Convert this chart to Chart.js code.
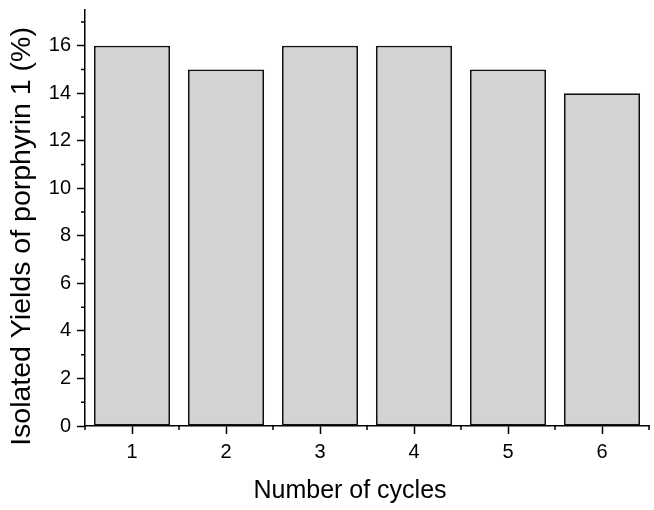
<!DOCTYPE html>
<html>
<head>
<meta charset="utf-8">
<script src="https://cdn.jsdelivr.net/npm/chart.js@4/dist/chart.umd.min.js"></script>
<style>
	html, body { margin: 0; padding: 0; background: #fff; }
	#wrap { width: 654px; height: 510px; }
</style>
</head>
<body>
<div id="wrap"><canvas id="yieldChart" width="654" height="510"></canvas></div>
<script>
	// data
	const cycles = ["1", "2", "3", "4", "5", "6"];
	const yields = [16, 15, 16, 16, 15, 14];
	const yMin = 0;
	const yMax = 17.5;
	const yStep = 2;
	const xTitle = "Number of cycles";
	const yTitle = "Isolated Yields of porphyrin 1 (%)";

	const fontFamily = "'Liberation Sans', Arial, sans-serif";

	// minor ticks + axis titles (Origin style, titles slightly off-centre)
	const originAxes = {
		id: "originAxes",
		afterDraw(chart) {
			const ctx = chart.ctx;
			const area = chart.chartArea;
			const xs = chart.scales.x;
			const ys = chart.scales.y;
			ctx.save();
			ctx.strokeStyle = "#000";
			ctx.lineWidth = 1.5;
			ctx.beginPath();
			for (let v = yMin + 1; v < yMax; v += yStep) {
				const py = ys.getPixelForValue(v);
				ctx.moveTo(area.left - 4, py);
				ctx.lineTo(area.left, py);
			}
			const half = (xs.getPixelForValue(1) - xs.getPixelForValue(0)) / 2;
			for (let i = 0; i <= cycles.length; i++) {
				const px = xs.getPixelForValue(i) - half;
				ctx.moveTo(px, area.bottom);
				ctx.lineTo(px, area.bottom + 4);
			}
			ctx.stroke();

			ctx.fillStyle = "#000";
			ctx.textAlign = "center";
			ctx.textBaseline = "alphabetic";
			ctx.font = "25px " + fontFamily;
			ctx.fillText(xTitle, 350, 498);

			ctx.translate(30, 236.5);
			ctx.rotate(-Math.PI / 2);
			ctx.font = "28.5px " + fontFamily;
			ctx.fillText(yTitle, 0, 0);
			ctx.restore();
		}
	};

	new Chart(document.getElementById("yieldChart"), {
		type: "bar",
		data: {
			labels: cycles,
			datasets: [
				{
					label: "Yield",
					data: yields,
					backgroundColor: "#d3d3d3",
					borderColor: "#111",
					borderWidth: 1.8,
					borderSkipped: false,
					barPercentage: 0.81,
					categoryPercentage: 1.0,
				},
			],
		},
		options: {
			responsive: false,
			animation: false,
			layout: {
				padding: { top: 10, right: 5, left: 0, bottom: 0 },
			},
			plugins: {
				legend: { display: false },
				tooltip: { enabled: false },
			},
			scales: {
				x: {
					offset: true,
					grid: {
						display: true,
						offset: false,
						drawOnChartArea: false,
						drawTicks: true,
						tickLength: 8,
						tickWidth: 1.5,
						tickColor: "#000",
					},
					border: { display: true, color: "#000", width: 1.5 },
					ticks: {
						color: "#000",
						padding: 6,
						maxRotation: 0,
						font: { family: fontFamily, size: 20 },
					},
					afterFit(scale) {
						scale.height = 84;
						scale.paddingLeft = 0;
						scale.paddingRight = 0;
					},
				},
				y: {
					min: yMin,
					max: yMax,
					grid: {
						display: true,
						drawOnChartArea: false,
						drawTicks: true,
						tickLength: 8,
						tickWidth: 1.5,
						tickColor: "#000",
					},
					border: { display: true, color: "#000", width: 1.5 },
					ticks: {
						stepSize: yStep,
						includeBounds: false,
						color: "#000",
						padding: 6,
						font: { family: fontFamily, size: 20 },
					},
					afterFit(scale) {
						scale.width = 85;
						scale.paddingTop = 0;
						scale.paddingBottom = 0;
					},
				},
			},
		},
		plugins: [originAxes],
	});
</script>
</body>
</html>
